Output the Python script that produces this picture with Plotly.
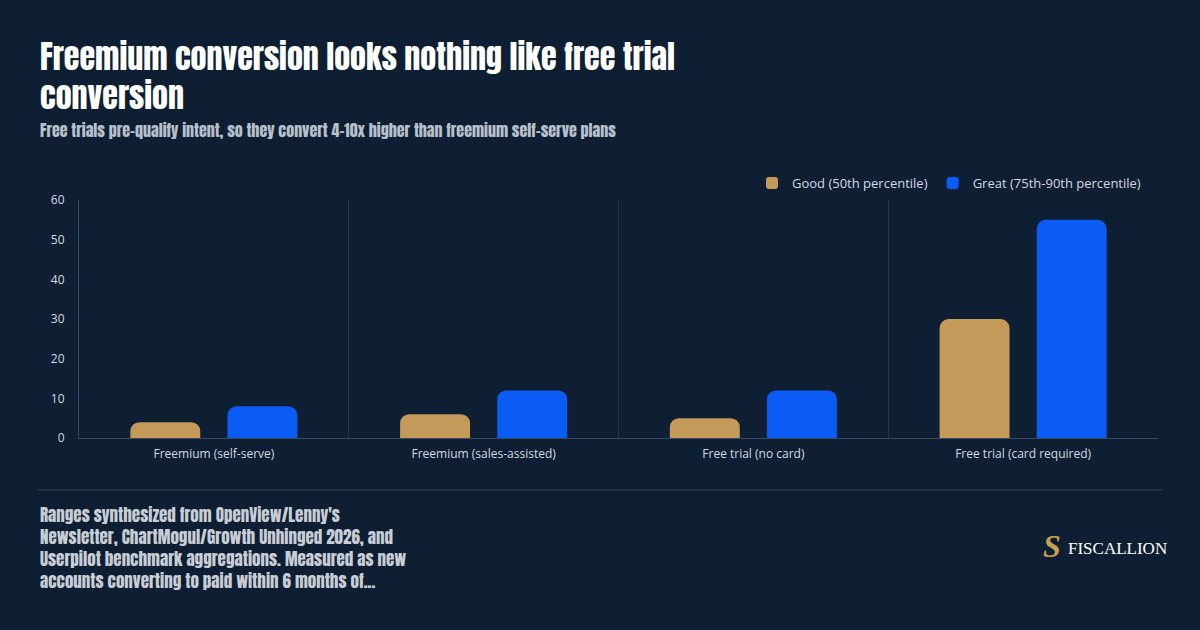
import plotly.graph_objects as go

categories = ["Freemium (self-serve)", "Freemium (sales-assisted)", "Free trial (no card)", "Free trial (card required)"]
good_values = [4, 6, 5, 30]
great_values = [8, 12, 12, 55]
series_names = ["Good (50th percentile)", "Great (75th-90th percentile)"]
y_ticks = [0, 10, 20, 30, 40, 50, 60]

title_lines = ["Freemium conversion looks nothing like free trial", "conversion"]
subtitle = "Free trials pre-qualify intent, so they convert 4-10x higher than freemium self-serve plans"
footer_lines = ["Ranges synthesized from OpenView/Lenny's",
                "Newsletter, ChartMogul/Growth Unhinged 2026, and",
                "Userpilot benchmark aggregations. Measured as new",
                "accounts converting to paid within 6 months of..."]

BG = "#0E1F33"
GOLD = "#C49A5A"
BLUE = "#0A5CF5"
TITLE_FONT = "Anton, Oswald, Roboto Condensed, sans-serif"
BODY_FONT = "Open Sans, Noto Sans, sans-serif"

W, H = 1079, 238  # plot area size in px
def px(x):
    return (x - 79) / W
def py(y):
    return (438 - y) / H

fig = go.Figure()
fig.add_trace(go.Bar(x=categories, y=good_values, name=series_names[0],
                     marker=dict(color=GOLD, line=dict(width=0))))
fig.add_trace(go.Bar(x=categories, y=great_values, name=series_names[1],
                     marker=dict(color=BLUE, line=dict(width=0))))

fig.update_layout(
    width=1200, height=630,
    paper_bgcolor=BG, plot_bgcolor=BG,
    margin=dict(l=79, r=42, t=200, b=192),
    barmode="group", bargap=0.28, bargroupgap=0.28,
    barcornerradius=9,
    showlegend=True,
    legend=dict(orientation="h", x=px(1146), xanchor="right", y=py(198), yanchor="bottom",
                font=dict(family=BODY_FONT, size=13, color="#D5D9E0"),
                bgcolor="rgba(0,0,0,0)"),
    font=dict(family=BODY_FONT, color="#D5D9E0"),
    xaxis=dict(showgrid=True, gridcolor="#243449", gridwidth=1, tickson="boundaries",
               ticks="", showline=True, linecolor="#3A4A60", linewidth=1,
               ticklabelstandoff=5,
               tickfont=dict(family=BODY_FONT, size=12, color="#D5D9E0")),
    yaxis=dict(range=[0, 60], tickvals=y_ticks, showgrid=False, zeroline=False,
               showline=True, linecolor="#3A4A60", linewidth=1, ticks="",
               ticklabelstandoff=11,
               tickfont=dict(family=BODY_FONT, size=12, color="#D5D9E0")),
)

for i, line in enumerate(title_lines):
    fig.add_annotation(text=line, xref="paper", yref="paper", x=px(38), y=py(30 + 39 * i),
                       xanchor="left", yanchor="top", align="left", showarrow=False,
                       font=dict(family=TITLE_FONT, size=32, color="#FFFFFF"))
fig.add_annotation(text=subtitle,
                   xref="paper", yref="paper", x=px(38), y=py(130),
                   xanchor="left", yanchor="middle", align="left", showarrow=False,
                   font=dict(family=TITLE_FONT, size=16, color="#B8C0CC"))
for i, line in enumerate(footer_lines):
    fig.add_annotation(text=line, xref="paper", yref="paper", x=px(38), y=py(500 + 22 * i),
                       xanchor="left", yanchor="top", align="left", showarrow=False,
                       font=dict(family=TITLE_FONT, size=17, color="#C8CDD6"))
fig.add_annotation(text="FISCALLION", xref="paper", yref="paper",
                   x=px(1066), y=py(548), xanchor="left", yanchor="middle",
                   showarrow=False, font=dict(family="Liberation Serif, DejaVu Serif, serif", size=17, color="#FFFFFF"))
fig.add_annotation(text="<b><i>S</i></b>", xref="paper", yref="paper",
                   x=px(1052), y=py(546), xanchor="center", yanchor="middle",
                   showarrow=False, font=dict(family="Liberation Serif, DejaVu Serif, serif", size=32, color="#C9A04E"))
fig.add_shape(type="line", xref="paper", yref="paper",
              x0=px(38), x1=px(1162), y0=py(490), y1=py(490),
              line=dict(color="#22334A", width=2))

fig.write_html("out.html")
